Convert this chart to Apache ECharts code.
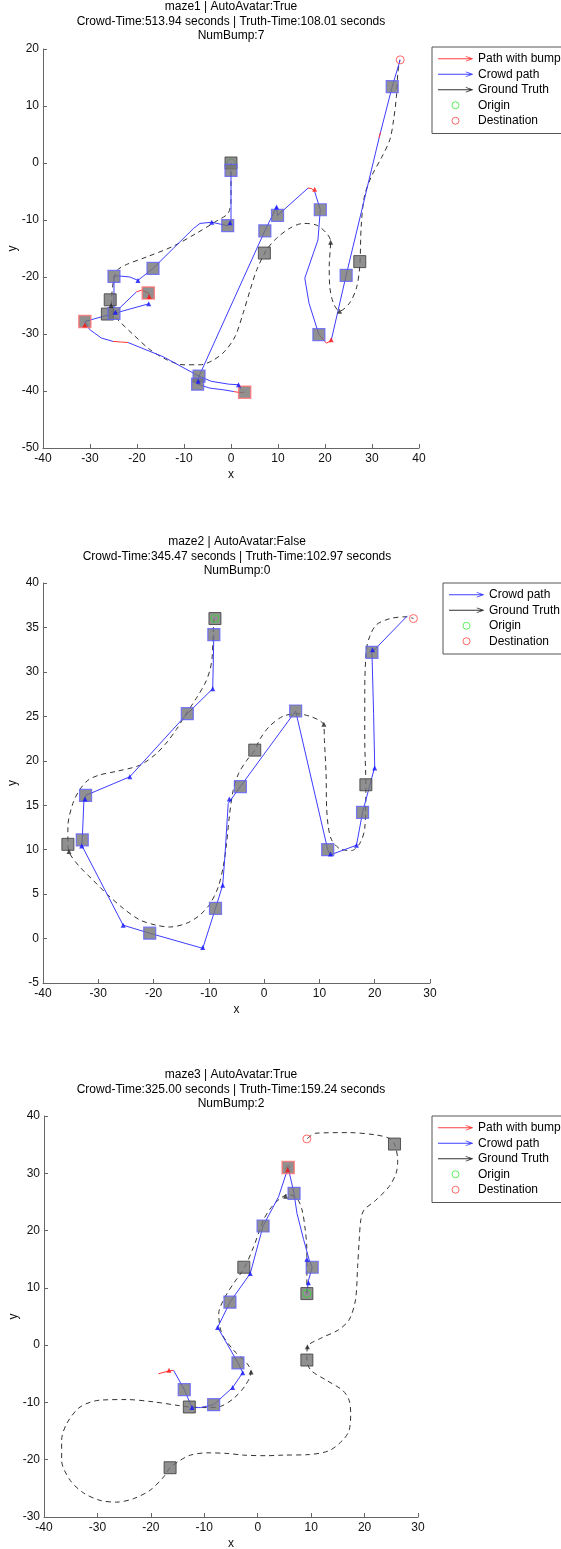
<!DOCTYPE html>
<html>
<head>
<meta charset="utf-8">
<script src="https://cdn.jsdelivr.net/npm/echarts@6/dist/echarts.min.js"></script>
<style>
  html, body { margin: 0; padding: 0; background: #fff; }
  #chart { width: 561px; height: 1549px; }
</style>
</head>
<body>
<div id="chart"></div>
<script>
// ---------- maze1 ----------
const m1Title = 'maze1 | AutoAvatar:True\nCrowd-Time:513.94 seconds | Truth-Time:108.01 seconds\nNumBump:7';
const m1Truth = [[0,0],[0,-6.4],[-0.6,-8.8],[-3.1,-10.2],[-7.3,-12.3],[-12.3,-14.6],[-18.0,-16.5],[-22.2,-17.8],[-24.2,-18.8],[-24.9,-20.2],[-25.4,-24.0],[-25.2,-26.3],[-23.7,-27.8],[-20.8,-30.1],[-17.3,-32.7],[-13.7,-34.5],[-10.2,-35.4],[-6.6,-35.4],[-3.8,-34.6],[-1.3,-33.0],[0.9,-30.4],[2.6,-26.3],[4.1,-22.2],[5.5,-18.7],[7.6,-15.2],[9.7,-13.2],[12.6,-11.4],[15.4,-10.6],[18.2,-10.9],[20.3,-12.3],[21.2,-13.7],[20.9,-18.1],[21.0,-21.6],[21.8,-24.6],[23.1,-26.0],[25.2,-24.6],[26.7,-21.9],[27.4,-18.1],[27.7,-11.1],[28.4,-5.8],[29.9,-2.3],[32.0,0.9],[33.8,4.1],[34.6,7.6],[35.2,11.7],[35.5,15.8],[35.9,18.1]];
const m1Crowd = [
  [[0,-1.3],[0,-10.3],[-0.7,-11]],
  [[-0.7,-11],[-4.1,-10.4],[-6.6,-10.6],[-8.0,-11.5],[-12.3,-15.0],[-16.6,-18.5]],
  [[-16.6,-18.5],[-19.8,-20.6],[-21.5,-20.0],[-24.0,-19.8],[-24.9,-19.9]],
  [[-24.9,-19.9],[-24.9,-26.4]],
  [[-24.9,-26.4],[-17.5,-24.7]],
  [[-24.9,-26.4],[-20.1,-22.6]],
  [[-24.9,-26.4],[-31.1,-27.8]],
  [[-31.1,-27.8],[-30.1,-29.2],[-27.6,-30.7],[-25.1,-31.3]],
  [[-21.9,-31.5],[-14.4,-34.0],[-6.8,-37.4]],
  [[-6.8,-37.4],[-7.1,-38.8]],
  [[-6.8,-37.4],[-4.2,-38.3],[-0.5,-38.8],[1.6,-38.9],[2.1,-39.6]],
  [[-7.1,-38.8],[-4.5,-39.5],[-1.5,-39.8],[0.6,-40.1]],
  [[-6.8,-37.4],[7.2,-11.9],[9.7,-7.7],[9.9,-9.2],[16.4,-4.4]],
  [[17.8,-5.0],[19.0,-8.2]],
  [[19.0,-8.2],[18.5,-13.5],[15.7,-20.2],[16.6,-24.6],[18.7,-30.1]],
  [[21.3,-31.2],[24.5,-19.7],[31.6,4.7],[34.3,13.4],[36.0,18.1]]
];
const m1Bump = [
  [[-20.1,-22.6],[-19.0,-22.3],[-17.6,-22.8],[-17.3,-23.6]],
  [[-25.1,-31.3],[-23.5,-31.4],[-21.9,-31.5]],
  [[0.6,-40.1],[2.0,-40.3],[2.9,-40.2]],
  [[16.4,-4.4],[17.2,-4.5],[17.8,-5.0]],
  [[18.7,-30.1],[20.3,-31.6],[21.3,-31.2]],
  [[31.5,4.4],[31.8,5.4]]
];
const m1SqCrowd = [[0,-1.3],[-0.7,-11],[-16.6,-18.5],[-24.9,-19.9],[-24.9,-26.4],[-6.8,-37.4],[-7.1,-38.8],[7.2,-11.9],[9.9,-9.2],[19.0,-8.2],[24.5,-19.7],[18.7,-30.1],[34.3,13.4]];
const m1SqTruth = [[0,0],[-25.7,-24.0],[-26.3,-26.5],[7.1,-15.8],[27.4,-17.3]];
const m1SqBump = [[-17.6,-22.8],[-31.1,-27.8],[2.9,-40.2]];
const m1ArrBlue = [[-4.1,-10.4],[-19.8,-20.6],[-17.5,-24.7],[-24.6,-26.2],[1.6,-38.9],[-7.0,-38.3],[9.7,-7.7],[-0.2,-10.5]];
const m1ArrRed = [[-17.4,-23.4],[17.8,-4.6],[21.3,-31.0],[-31.1,-28.4]];
const m1ArrBlack = [[21.2,-13.9],[23.1,-26.0],[-25.5,-25.0]];
const m1Origin = [0, 0];
const m1Dest = [36.0, 18.1];

// ---------- maze2 ----------
const m2Title = 'maze2 | AutoAvatar:False\nCrowd-Time:345.47 seconds | Truth-Time:102.97 seconds\nNumBump:0';
const m2Truth = [[-8.9,36.0],[-9.1,35.8],[-9.4,31.7],[-9.8,30.2],[-10.7,28.7],[-12.3,27.0],[-14.1,25.3],[-15.9,23.5],[-17.7,22.0],[-19.5,20.8],[-22.5,19.5],[-26.8,18.8],[-29.8,18.4],[-31.9,17.8],[-33.4,16.7],[-34.6,15.2],[-35.5,12.6],[-35.5,10.6],[-35.2,9.6],[-33.4,8.1],[-31.0,6.6],[-28.6,5.1],[-25.5,3.4],[-22.5,2.1],[-19.5,1.5],[-17.1,1.3],[-14.1,1.7],[-11.7,2.6],[-9.8,3.9],[-8.3,5.8],[-7.4,8.1],[-6.8,10.7],[-6.3,13.7],[-5.6,16.7],[-4.6,18.6],[-3.2,20.0],[-1.7,21.2],[-0.8,22.4],[1.0,23.9],[3.4,25.0],[5.9,25.3],[8.3,25.0],[10.1,24.5],[10.8,24.0],[10.9,22.3],[11.2,18.6],[11.3,14.8],[11.6,12.6],[12.2,11.1],[13.7,10.1],[15.8,9.9],[17.3,10.7],[18.2,12.4],[18.4,17.3],[18.2,22.3],[18.2,28.0],[18.5,32.5],[19.1,34.0],[20.3,35.3],[22.8,36.0],[25.8,36.2],[27.0,36.0]];
const m2Crowd = [
  [[-9.1,34.2],[-9.3,28.1],[-13.9,25.3],[-24.3,18.2],[-32.3,16.1],[-32.6,15.6],[-32.9,11.1],[-33.0,10.5],[-25.5,1.5],[-20.7,0.6],[-11.1,-1.1],[-8.8,3.4],[-7.5,6.0],[-7.1,9.2],[-6.5,15.2],[-4.3,17.1],[5.7,25.6],[11.5,10.0],[11.9,9.4],[16.7,10.5],[17.8,14.2],[20.0,19.3],[19.8,25.3],[19.5,32.2],[25.9,36.3]]
];
const m2Bump = [];
const m2SqCrowd = [[-9.1,34.2],[-13.9,25.3],[-32.3,16.1],[-32.9,11.1],[-20.7,0.6],[-8.8,3.4],[-4.3,17.1],[5.7,25.6],[11.5,10.0],[17.8,14.2],[19.5,32.2]];
const m2SqTruth = [[-8.9,36.0],[-35.5,10.6],[-1.7,21.2],[18.4,17.3]];
const m2SqBump = [];
const m2ArrBlue = [[-9.3,28.1],[-24.3,18.2],[-32.4,15.7],[-33.0,10.4],[-25.5,1.5],[-11.1,-1.0],[-7.5,6.0],[-6.3,15.7],[12.0,9.5],[16.7,10.5],[20.0,19.2],[19.6,32.5]];
const m2ArrRed = [];
const m2ArrBlack = [[10.8,24.1],[-35.3,9.8]];
const m2Origin = [-8.9, 36.0];
const m2Dest = [27.0, 36.0];

// ---------- maze3 ----------
const m3Title = 'maze3 | AutoAvatar:True\nCrowd-Time:325.00 seconds | Truth-Time:159.24 seconds\nNumBump:2';
const m3Truth = [[9.2,9.0],[9.2,11.9],[9.2,16.6],[8.9,20.1],[8.3,23.6],[7.35,25.6],[5.8,26.3],[4.2,25.6],[2.5,24.0],[1.1,21.9],[-0.75,17.2],[-2.5,13.5],[-4.5,10.8],[-5.75,9.0],[-7.0,6.7],[-7.3,5.5],[-6.7,2.0],[-4.5,-0.9],[-2.0,-3.2],[-1.25,-4.7],[-2.3,-7.0],[-4.5,-9.3],[-7.0,-10.7],[-9.5,-10.9],[-12.8,-10.8],[-15.1,-10.5],[-19.5,-9.9],[-24.5,-9.5],[-29.5,-9.6],[-33.25,-10.8],[-35.75,-13.7],[-36.7,-16.6],[-36.7,-20.1],[-35.1,-23.6],[-32.6,-25.8],[-29.5,-27.1],[-26.4,-27.4],[-23.25,-26.8],[-20.1,-25.3],[-17.6,-23.0],[-16.4,-21.4],[-14.5,-20.1],[-12.6,-19.2],[-9.5,-18.8],[-5.75,-18.9],[-2.6,-19.2],[1.75,-19.3],[4.7,-19.2],[9.7,-19.1],[13.4,-18.4],[15.9,-16.6],[17.1,-14.9],[17.4,-11.9],[17.1,-9.6],[15.9,-7.9],[12.8,-6.1],[9.97,-4.4],[9.2,-2.6],[9.3,-0.3],[11.8,1.2],[15.0,2.6],[17.1,4.4],[18.3,7.9],[18.7,13.7],[19.0,18.4],[19.3,21.9],[19.9,23.6],[22.1,25.3],[24.6,27.7],[25.9,30.0],[26.2,32.3],[25.6,35.1],[24.6,36.1],[22.1,36.7],[17.1,37.1],[10.9,37.0],[9.2,36.0]];
const m3Crowd = [
  [[9.2,9.0],[9.5,11.3],[10.2,13.6],[9.6,15.0],[8.6,18.4],[7.35,23.0],[6.8,26.5],[5.7,31.0],[3.9,25.9],[1.0,20.8],[-1.4,12.5],[-5.2,7.5],[-7.5,3.1],[-3.7,-3.1],[-2.8,-4.8],[-4.7,-7.4],[-8.25,-10.4],[-10.75,-10.9],[-12.3,-10.9],[-13.75,-7.75],[-15.75,-4.4]]
];
const m3Bump = [
  [[-15.75,-4.4],[-16.6,-4.5],[-18.6,-5.0]],
  [[5.2,30.8],[5.7,31.4],[6.1,31.0]]
];
const m3SqCrowd = [[6.8,26.5],[1.0,20.8],[-5.2,7.5],[10.2,13.6],[-3.7,-3.1],[-13.75,-7.75],[-8.25,-10.4]];
const m3SqTruth = [[9.2,9.0],[-2.6,13.6],[9.2,-2.6],[25.6,35.1],[-12.8,-10.8],[-16.4,-21.4]];
const m3SqBump = [[5.7,31.0]];
const m3ArrBlue = [[9.5,10.9],[9.2,15.0],[-1.4,12.5],[-7.5,3.1],[-2.8,-4.8],[-4.7,-7.4],[-12.3,-10.9]];
const m3ArrRed = [[5.6,30.6],[-16.6,-4.4]];
const m3ArrBlack = [[-1.25,-4.7],[5.2,26.0],[9.3,-0.3]];
const m3Origin = [9.2, 9.0];
const m3Dest = [9.2, 36.0];

const FONT = '"Liberation Sans", Arial, Helvetica, sans-serif';
const BLUE = '#3d3dff', RED = '#ff3333', GT = '#333333';
const arrowIcon = 'path://M0,3.6L33,3.6L33,4.4L0,4.4Z M27,1.4L34,3.7L34,4.3L27,6.6L27,5.9L32.2,4L27,2.1Z';

const plots = [
  { title: m1Title, truth: m1Truth, crowd: m1Crowd, bump: m1Bump, sqCrowd: m1SqCrowd, sqTruth: m1SqTruth, sqBump: m1SqBump,
    arrBlue: m1ArrBlue, arrRed: m1ArrRed, arrBlack: m1ArrBlack, origin: m1Origin, dest: m1Dest, originZ: 3,
    grid: { left: 43, top: 49, width: 376, height: 399 }, x: [-40, 40, 10], y: [-50, 20, 10],
    titleAt: [231, 0], legendAt: [432, 47], bumpLegend: true },
  { title: m2Title, truth: m2Truth, crowd: m2Crowd, bump: m2Bump, sqCrowd: m2SqCrowd, sqTruth: m2SqTruth, sqBump: m2SqBump,
    arrBlue: m2ArrBlue, arrRed: m2ArrRed, arrBlack: m2ArrBlack, origin: m2Origin, dest: m2Dest, originZ: 9,
    grid: { left: 43, top: 583, width: 387, height: 400 }, x: [-40, 30, 10], y: [-5, 40, 5],
    titleAt: [237, 535], legendAt: [443, 583], bumpLegend: false },
  { title: m3Title, truth: m3Truth, crowd: m3Crowd, bump: m3Bump, sqCrowd: m3SqCrowd, sqTruth: m3SqTruth, sqBump: m3SqBump,
    arrBlue: m3ArrBlue, arrRed: m3ArrRed, arrBlack: m3ArrBlack, origin: m3Origin, dest: m3Dest, originZ: 9,
    grid: { left: 44, top: 1116, width: 374, height: 401 }, x: [-40, 30, 10], y: [-30, 40, 10],
    titleAt: [231, 1068], legendAt: [432, 1116], bumpLegend: true }
];

const option = {
  animation: false,
  backgroundColor: '#fff',
  textStyle: { fontFamily: FONT },
  title: [], legend: [], grid: [], xAxis: [], yAxis: [], series: []
};

function axisCommon() {
  return {
    type: 'value',
    splitLine: { show: false },
    axisLine: { onZero: false, lineStyle: { color: '#666', width: 1 } },
    axisTick: { inside: true, length: 4, lineStyle: { color: '#666' } },
    axisLabel: { color: '#111', fontSize: 12, fontFamily: FONT },
    nameTextStyle: { color: '#111', fontSize: 12, fontFamily: FONT },
    nameLocation: 'middle',
    nameMoveOverlap: false
  };
}

function line(name, pts, i, color, dashed, z) {
  return {
    name: name, type: 'line', xAxisIndex: i, yAxisIndex: i, data: pts,
    showSymbol: false, symbol: 'none', smooth: dashed ? 0.3 : false, z: z,
    lineStyle: { color: color, width: 1, type: dashed ? [5, 4] : 'solid' },
    itemStyle: { color: color }, silent: true
  };
}

function dots(name, pts, i, symbol, size, style, z) {
  return {
    name: name, type: 'scatter', xAxisIndex: i, yAxisIndex: i, data: pts,
    symbol: symbol, symbolSize: size, itemStyle: style, z: z, silent: true
  };
}

plots.forEach((p, i) => {
  option.title.push({
    text: p.title, left: p.titleAt[0], top: p.titleAt[1], textAlign: 'center', padding: 0,
    textStyle: { fontSize: 12, fontWeight: 'normal', color: '#000', lineHeight: 14.3, fontFamily: FONT }
  });
  option.grid.push(Object.assign({ containLabel: false, outerBoundsMode: 'none' }, p.grid));
  option.xAxis.push(Object.assign(axisCommon(), {
    gridIndex: i, min: p.x[0], max: p.x[1], interval: p.x[2], name: 'x', nameGap: 21,
    axisLabel: { color: '#111', fontSize: 12, fontFamily: FONT, margin: 5 }
  }));
  option.yAxis.push(Object.assign(axisCommon(), {
    gridIndex: i, min: p.y[0], max: p.y[1], interval: p.y[2], name: 'y', nameGap: 24, nameRotate: 90,
    axisLabel: { color: '#111', fontSize: 12, fontFamily: FONT, margin: 4 }
  }));

  const legendData = [];
  if (p.bumpLegend) legendData.push({ name: 'Path with bump', icon: arrowIcon, itemStyle: { color: '#ff4040', borderWidth: 0 } });
  legendData.push({ name: 'Crowd path', icon: arrowIcon, itemStyle: { color: '#4040ff', borderWidth: 0 } });
  legendData.push({ name: 'Ground Truth', icon: arrowIcon, itemStyle: { color: '#333', borderWidth: 0 } });
  legendData.push({ name: 'Origin', icon: 'circle', itemStyle: { color: '#fff', borderColor: '#33ee33', borderWidth: 1 } });
  legendData.push({ name: 'Destination', icon: 'circle', itemStyle: { color: '#fff', borderColor: '#ff4444', borderWidth: 1 } });
  option.legend.push({
    data: legendData, orient: 'vertical', left: p.legendAt[0], top: p.legendAt[1],
    itemWidth: 35, itemHeight: 7, itemGap: 0, padding: [4, 6, 5, 6],
    backgroundColor: '#fff', borderColor: '#555', borderWidth: 1, borderRadius: 0,
    selectedMode: false,
    textStyle: { fontSize: 12, color: '#000', lineHeight: 15.5, fontFamily: FONT }
  });

  option.series.push(line('Ground Truth', p.truth, i, GT, true, 2));
  p.crowd.forEach(seg => option.series.push(line('Crowd path', seg, i, BLUE, false, 3)));
  p.bump.forEach(seg => option.series.push(line('Path with bump', seg, i, RED, false, 4)));
  option.series.push(dots('Origin', [p.origin], i, 'circle', 8,
    { color: 'rgba(0,0,0,0)', borderColor: '#33dd33', borderWidth: 1 }, p.originZ));
  option.series.push(dots('Destination', [p.dest], i, 'circle', 8,
    { color: 'rgba(0,0,0,0)', borderColor: '#ff4444', borderWidth: 1 }, 9));
  option.series.push(dots('truth nodes', p.sqTruth, i, 'rect', 12,
    { color: '#747474', borderColor: '#3a3a3a', borderWidth: 1 }, 5));
  option.series.push(dots('crowd nodes', p.sqCrowd, i, 'rect', 12,
    { color: '#747474', borderColor: '#6060ff', borderWidth: 1.2 }, 6));
  option.series.push(dots('bump nodes', p.sqBump, i, 'rect', 12,
    { color: '#747474', borderColor: '#ff7070', borderWidth: 1.5 }, 6));
  option.series.push(dots('blue arrows', p.arrBlue, i, 'triangle', 5, { color: '#1010ff' }, 7));
  option.series.push(dots('red arrows', p.arrRed, i, 'triangle', 5, { color: '#ff1010' }, 7));
  option.series.push(dots('black arrows', p.arrBlack, i, 'triangle', 5, { color: '#222' }, 7));
});

const chart = echarts.init(document.getElementById('chart'), null, { renderer: 'canvas' });
chart.setOption(option);
</script>
</body>
</html>
